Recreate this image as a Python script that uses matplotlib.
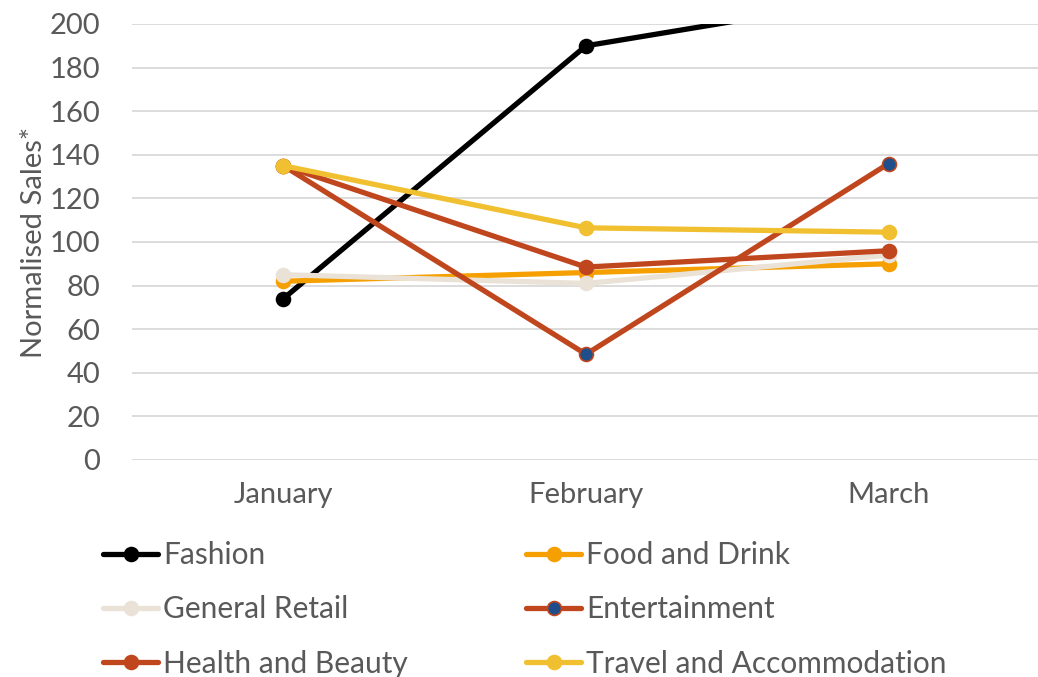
import numpy as np
import matplotlib.pyplot as plt

# data
months = ["January", "February", "March"]
fashion = [74, 190, 213]
food_drink = [82, 86, 90]
general_retail = [85, 81, 94]
entertainment = [135, 48.5, 136]
health_beauty = [135, 88.5, 96]
travel = [135, 106.5, 104.5]

names = ["Fashion", "Food and Drink", "General Retail", "Entertainment",
         "Health and Beauty", "Travel and Accommodation"]
colors = ["#000000", "#F5A000", "#EAE2D6", "#C0461E", "#C0461E", "#F0C030"]
faces = ["#000000", "#F5A000", "#EAE2D6", "#1F4E8A", "#C0461E", "#F0C030"]
series = [fashion, food_drink, general_retail, entertainment, health_beauty, travel]

plt.rcParams['font.family'] = ['Lato', 'DejaVu Sans']
txt = "#595959"

fig = plt.figure(figsize=(10.38, 6.77), dpi=100)
ax = fig.add_axes([132 / 1038, 1 - 460 / 677, 908 / 1038, 436 / 677])

x = np.arange(len(months))
handles = []
for name, vals, c, fc in zip(names, series, colors, faces):
    h, = ax.plot(x, vals, color=c, lw=3.8, marker="o", ms=10,
                 markerfacecolor=fc, markeredgecolor=c, markeredgewidth=1.2,
                 label=name, solid_capstyle="round")
    handles.append(h)

ax.set_xlim(-0.5, 2.5)
ax.set_ylim(0, 200)
ax.set_yticks(range(0, 201, 20))
ax.set_xticks(x)
ax.set_xticklabels(months)
ax.grid(axis="y", color="#D9D9D9", lw=1.3)
ax.set_axisbelow(True)
for s in ax.spines.values():
    s.set_visible(False)
ax.tick_params(length=0, labelsize=21, colors=txt)
ax.tick_params(axis="y", pad=23)
ax.tick_params(axis="x", pad=16)
ax.set_ylabel("Normalised Sales*", fontsize=21, color=txt, labelpad=2)

# legend row-wise: reorder for column-wise fill
order = [0, 2, 4, 1, 3, 5]
leg = fig.legend([handles[i] for i in order], [names[i] for i in order],
                 ncol=2, loc="upper left", bbox_to_anchor=(103 / 1038, 1 - 541 / 677),
                 frameon=False, fontsize=21.5, handlelength=1.85, handletextpad=0.17,
                 columnspacing=3.95, labelspacing=0.88, borderaxespad=0, borderpad=0)
for t in leg.get_texts():
    t.set_color(txt)

fig.savefig("out.png", dpi=100)
